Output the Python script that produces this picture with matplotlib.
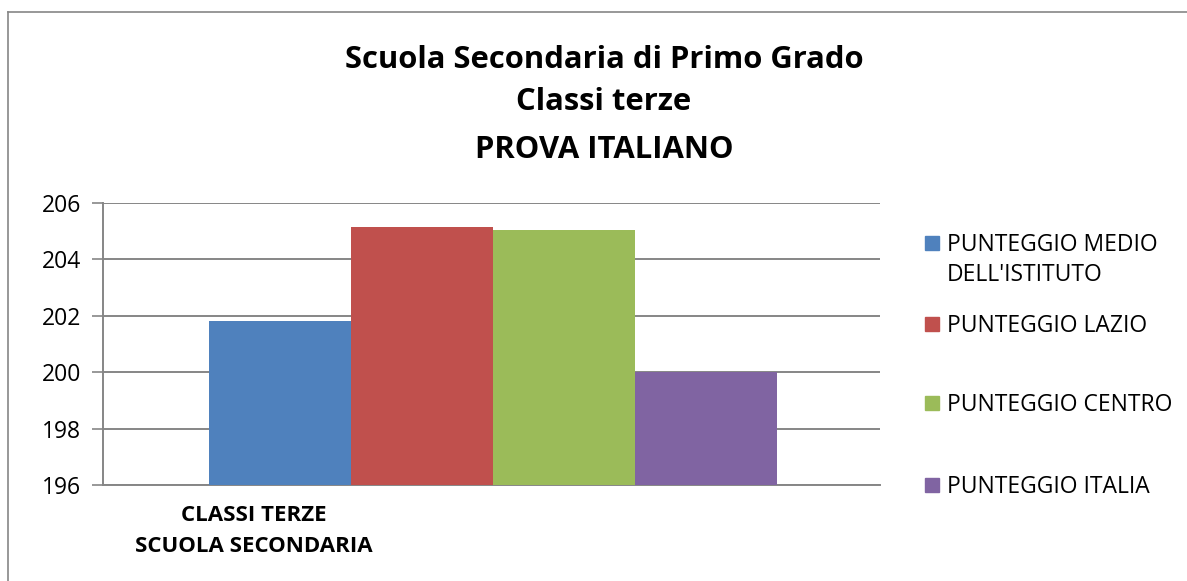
import matplotlib
matplotlib.use("Agg")
import matplotlib.pyplot as plt
from matplotlib.patches import Rectangle
from matplotlib.lines import Line2D

plt.rcParams['font.family'] = ['Open Sans', 'DejaVu Sans']

category = "CLASSI TERZE\nSCUOLA SECONDARIA"
series_names = ["PUNTEGGIO MEDIO\nDELL'ISTITUTO", "PUNTEGGIO LAZIO",
                "PUNTEGGIO CENTRO", "PUNTEGGIO ITALIA"]
values = [201.81, 205.13, 205.03, 200.0]
colors = ["#4F81BD", "#C0504D", "#9BBB59", "#8064A2"]
yticks = [196, 198, 200, 202, 204, 206]
title_lines = ["Scuola Secondaria di Primo Grado", "Classi terze", "PROVA ITALIANO"]

W, H = 1187, 581
fig = plt.figure(figsize=(W / 100, H / 100), dpi=100)

# outer frame (top and left edges)
fig.add_artist(Line2D([8 / W, 8 / W], [0, 1 - 12 / H], transform=fig.transFigure,
                      color="#868686", lw=1.2))
fig.add_artist(Line2D([8 / W, 1], [1 - 12 / H, 1 - 12 / H], transform=fig.transFigure,
                      color="#868686", lw=1.2))

ax = fig.add_axes([103 / W, 1 - 485.3 / H, (880 - 103) / W, (485.3 - 202.7) / H])
bw = 142 / 777
n = len(values)
for i, (v, c) in enumerate(zip(values, colors)):
    x = (i - (n - 1) / 2) * bw + 0.0015
    ax.bar(x, v - 196, bottom=196, width=bw, color=c, zorder=3)

ax.set_xlim(-0.5, 0.5)
ax.set_ylim(196, 206)
ax.set_yticks(yticks)
ax.set_yticklabels([str(t) for t in yticks], fontsize=16.5)
ax.yaxis.grid(True, color="#868686", lw=1.4, zorder=0)
ax.tick_params(axis="y", length=8, width=1.2, color="#868686", pad=8)
ax.set_xticks([])
for s in ["top", "right"]:
    ax.spines[s].set_visible(False)
for s in ["left", "bottom"]:
    ax.spines[s].set_color("#868686")
    ax.spines[s].set_linewidth(1.4)

ax.text((254 - 103) / 777, -0.07, category, transform=ax.transAxes, ha="center",
        va="top", fontsize=16, fontweight="bold", linespacing=1.6)

ys = [59.5, 102.5, 150.5]
for t, y in zip(title_lines, ys):
    fig.text(604 / W, 1 - y / H, t, ha="center", va="center", fontsize=22.3,
             fontweight="bold")

# legend
leg_y = [243, 324, 403, 485]
for name, c, y in zip(series_names, colors, leg_y):
    fig.add_artist(Rectangle((925 / W, 1 - (y + 7) / H), 14 / W, 14 / H,
                             transform=fig.transFigure, color=c))
    fig.text(947 / W, 1 - (y - 10) / H, name, ha="left", va="top", fontsize=16.5,
             linespacing=1.33)

fig.savefig("out.png", dpi=100)
